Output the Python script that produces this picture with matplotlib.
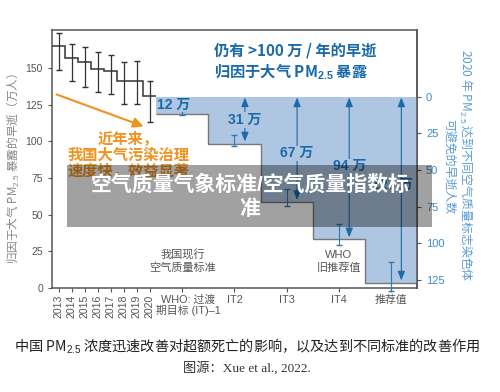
import numpy as np
import matplotlib
matplotlib.use('Agg')
import matplotlib.pyplot as plt
from matplotlib.patches import Rectangle
from matplotlib.transforms import ScaledTranslation

plt.rcParams['font.family'] = ['Liberation Sans', 'Noto Sans CJK SC', 'DejaVu Sans']
plt.rcParams['mathtext.fontset'] = 'custom'
plt.rcParams['mathtext.rm'] = 'Liberation Sans'
plt.rcParams['mathtext.bf'] = 'Liberation Sans:bold'
plt.rcParams['axes.unicode_minus'] = False

CJK = 'Noto Sans CJK SC'  # 含公式的文字只用一种字体

# 2013-2020 归因于 PM2.5 的早逝（万人）
years = ['2013', '2014', '2015', '2016', '2017', '2018', '2019', '2020']
deaths = [165, 157, 154, 149.6, 147.8, 141.2, 141.2, 130.7]
deaths_lo = [149, 141, 137.5, 134, 132.6, 125.7, 125.3, 113]
deaths_hi = [174, 166.6, 164.6, 161, 159, 154, 154.6, 141]

# 达到各标准可避免的早逝（右轴，万人）
standards = ['WHO: 过渡\n期目标 (IT)–1', 'IT2', 'IT3', 'IT4', '推荐值']
avoided = [11.5, 32, 72, 97.5, 127]
avoided_lo = [9.6, 26, 63, 87, 113]
avoided_hi = [12.3, 33.6, 74.6, 101.5, 133]
avoided_text = ['12 万', '31 万', '67 万', '94 万', '127 万']

BASE = 130.5  # 右轴 0 对应的左轴数值

BLUE = '#1a6aa8'
LIGHT_BLUE = '#aec6e2'
ORANGE = '#f0921e'
GREY = '#555555'

year_x = np.arange(len(years))
std_x = 9.5 + 4 * np.arange(len(standards))
to_left = lambda v: BASE - np.asarray(v, dtype=float)

fig = plt.figure(figsize=(5.0, 3.92), dpi=100)
ax = fig.add_axes([0.104, 0.266, 0.730, 0.657])
ax.set_xlim(-0.5, 27.5)
ax.set_ylim(0, 176)

# 蓝色可避免区域
ax.bar(std_x, avoided, bottom=to_left(avoided), width=4, color=LIGHT_BLUE, zorder=1)
ax.stairs(to_left(avoided), edges=np.append(std_x - 2, std_x[-1] + 2),
          baseline=None, color='#777777', lw=1, zorder=2)

# 黑色阶梯线与误差
ax.stairs(deaths, edges=np.arange(-0.5, len(years)), baseline=None,
          color='#333333', lw=1.1, zorder=3)
ax.errorbar(year_x, deaths,
            yerr=[np.subtract(deaths, deaths_lo), np.subtract(deaths_hi, deaths)],
            fmt='none', ecolor='#333333', elinewidth=0.9, capsize=2.2, zorder=3)

# 蓝色误差
mid = to_left(avoided)
eb = ax.errorbar(std_x, mid,
                 yerr=[mid - to_left(avoided_hi), to_left(avoided_lo) - mid],
                 fmt='none', ecolor='#2a7ab8', elinewidth=0.8, capsize=2, zorder=4)
for art in eb.get_children():
    art.set_clip_on(False)

# 箭头
arrow_x = std_x[1:] + 0.8
for xa, v in zip(arrow_x, avoided[1:]):
    ax.annotate('', xy=(xa, BASE - 0.5), xytext=(xa, BASE - v + 1.5),
                arrowprops=dict(arrowstyle='<|-|>,head_length=0.55,head_width=0.22',
                                color=BLUE, lw=0.8, shrinkA=0, shrinkB=0), zorder=4)

label_pos = [(8.8, 5.3), (arrow_x[0], 16), (arrow_x[1], 38.6),
             (arrow_x[2], 47.5), (25.6, 60.5)]
for (xl, yr), t in zip(label_pos, avoided_text):
    ax.text(xl, BASE - yr, t, color=BLUE, fontsize=10, fontweight='bold',
            ha='center', va='center', zorder=5,
            bbox=dict(facecolor=LIGHT_BLUE, edgecolor='none', pad=0.5))

# 标题与注释
ax.text(11.9, 153.9, '仍有 >100 万 / 年的早逝\n归因于大气 PM$_{\\mathbf{2.5}}$ 暴露',
        color=BLUE, fontsize=11, fontweight='bold', ha='left', va='center',
        linespacing=1.15, zorder=5, family=CJK)
ax.text(5.37, 90.5, '近年来，\n我国大气污染治理\n速度快，效益显著', color=ORANGE,
        fontsize=11, fontweight='bold', ha='center', va='center',
        linespacing=1.1, zorder=5)
ax.annotate('', xy=(6.52, 110.3), xytext=(-0.15, 132.1),
            arrowprops=dict(arrowstyle='-|>,head_length=0.6,head_width=0.3',
                            color=ORANGE, lw=1.5, shrinkA=0, shrinkB=0))
ax.text(std_x[0], 18, '我国现行\n空气质量标准', color=GREY, fontsize=8,
        ha='center', va='center', linespacing=1.3)
ax.text(std_x[3], 18, 'WHO\n旧推荐值', color=GREY, fontsize=8,
        ha='center', va='center', linespacing=1.3)

# 坐标轴
for s in ax.spines.values():
    s.set_color('#555555')
    s.set_linewidth(1.1)
ax.set_yticks([0, 25, 50, 75, 100, 125, 150])
ax.tick_params(axis='y', labelsize=7.5, labelcolor=GREY, color='#555555', length=3)
ax.set_xticks(list(year_x) + list(std_x))
ax.set_xticklabels(years + standards)
ax.tick_params(axis='x', labelsize=7.8, labelcolor=GREY, color='#555555', length=3, pad=2)
for lab in ax.get_xticklabels()[:len(years)]:
    lab.set_rotation(90)
    lab.set_fontsize(7.6)
for lab in ax.get_xticklabels()[len(years):]:
    lab.set_linespacing(1.0)
first_std = ax.get_xticklabels()[len(years)]
first_std.set_transform(first_std.get_transform() + ScaledTranslation(0.06, 0, fig.dpi_scale_trans))

sec = ax.secondary_yaxis('right', functions=(lambda y: BASE - y, lambda y: BASE - y))
sec.set_yticks([0, 25, 50, 75, 100, 125])
sec.tick_params(labelsize=8, labelcolor='#3d8ac7', color='#555555', length=3)
sec.spines['right'].set_color('#555555')
sec.spines['right'].set_linewidth(1.1)

fig.text(0.028, 0.569, '归因于大气 PM$_{2.5}$ 暴露的早逝（万人）', rotation=90,
         color='#888888', fontsize=8.4, ha='center', va='center', family=CJK)
# 右轴标题两列分开放
fig.text(0.931, 0.579, '2020 年 PM$_{2.5}$ 达到不同空气质量标志染色体',
         rotation=270, color='#5b9bd0', fontsize=8.6, ha='center', va='center',
         family=CJK)
fig.text(0.899, 0.574, '可避免的早逝人数',
         rotation=270, color='#5b9bd0', fontsize=8.6, ha='center', va='center',
         family=CJK)

fig.text(0.494, 0.117, '中国 PM$_{2.5}$ 浓度迅速改善对超额死亡的影响，以及达到不同标准的改善作用',
         color='#222222', fontsize=10.2, ha='center', va='center', family=CJK)
fig.text(0.494, 0.061, '图源：Xue et al., 2022.', color='#333333', fontsize=9.5,
         ha='center', va='center',
         family=['Liberation Serif', 'Noto Sans CJK SC'])

# 半透明横幅
fig.add_artist(Rectangle((0.134, 0.421), 0.730, 0.158, transform=fig.transFigure,
                         facecolor='black', alpha=0.37, edgecolor='none', zorder=10))
fig.text(0.5, 0.498, '空气质量气象标准/空气质量指数标\n准', color='white',
         fontsize=15, fontweight='bold', ha='center', va='center',
         linespacing=1.25, zorder=11)

fig.savefig('out.png', dpi=100)
